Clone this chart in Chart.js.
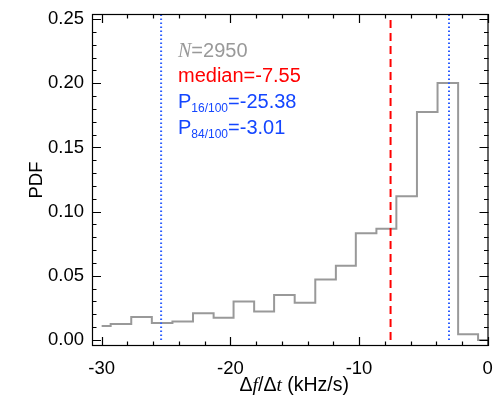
<!DOCTYPE html>
<html>
<head>
<meta charset="utf-8">
<script src="https://cdn.jsdelivr.net/npm/chart.js@4/dist/chart.umd.min.js"></script>
<style>
  html, body { margin: 0; padding: 0; background: #fff; }
  #wrap { width: 497px; height: 397px; position: relative; }
</style>
</head>
<body>
<div id="wrap"><canvas id="c" width="497" height="397"></canvas></div>
<script>
// ---- data ----
const binEdges = [-30, -29.3, -27.7, -26.1, -24.5, -22.9, -21.3, -19.75, -18.15, -16.6, -15.0,
                  -13.4, -11.8, -10.25, -8.65, -7.1, -5.5, -3.9, -2.3, -0.75, 0];
const pdfValues = [0.0109, 0.0125, 0.0179, 0.0132, 0.0143, 0.0208, 0.0174, 0.0299, 0.0221, 0.0350,
                   0.0290, 0.0472, 0.0579, 0.0831, 0.0867, 0.1119, 0.1776, 0.2002, 0.0044, 0.0];
const medianValue = -7.55;
const p16Value = -25.38;
const p84Value = -3.01;
const sampleCount = 2950;
const xMajorTicks = [-30, -20, -10, 0];
const xTickLabels = ['-30', '-20', '-10', '0'];
const xMinorTicks = [-28, -26, -24, -22, -18, -16, -14, -12, -8, -6, -4, -2];
const yMajorTicks = [0, 0.05, 0.10, 0.15, 0.20, 0.25];
const yTickLabels = ['0.00', '0.05', '0.10', '0.15', '0.20', '0.25'];
const yMinorTicks = [0.01,0.02,0.03,0.04,0.06,0.07,0.08,0.09,0.11,0.12,0.13,0.14,0.16,0.17,0.18,0.19,0.21,0.22,0.23,0.24];
const xAxisTitle = [['Δ', 'n'], ['f', 'i'], ['/', 'n'], ['Δ', 'n'], ['t', 'i'], [' (kHz/s)', 'n']];
const yAxisTitle = 'PDF';

const X_MIN = -30.75, X_MAX = 0.06;
const Y_MIN = -0.0047, Y_MAX = 0.254;

const SANS = '"Liberation Sans", Arial, Helvetica, sans-serif';
const SERIF = '"Liberation Serif", "Times New Roman", serif';
const GRAY = '#999999';
const RED = '#ff0000';
const BLUE = '#1446ff';
const DOT_BLUE = '#2a5cff';

Chart.defaults.font.family = SANS;
Chart.defaults.color = '#000';

const histPoints = binEdges.map((x, i) => ({ x: x, y: pdfValues[Math.min(i, pdfValues.length - 1)] }));
const vline = v => [{ x: v, y: 0 }, { x: v, y: Y_MAX }];

const decorPlugin = {
  id: 'decor',
  afterDraw(chart) {
    const ctx = chart.ctx;
    const a = chart.chartArea;
    const xs = chart.scales.x, ys = chart.scales.y;
    ctx.save();
    ctx.strokeStyle = '#000';
    ctx.lineWidth = 1.2;
    ctx.strokeRect(a.left + 0.5, a.top + 0.5, a.right - a.left - 1, a.bottom - a.top - 1);
    const tick = (px, len, horiz) => {
      ctx.beginPath();
      if (horiz) {
        ctx.moveTo(px, a.bottom); ctx.lineTo(px, a.bottom - len);
        ctx.moveTo(px, a.top); ctx.lineTo(px, a.top + len);
      } else {
        ctx.moveTo(a.left, px); ctx.lineTo(a.left + len, px);
        ctx.moveTo(a.right, px); ctx.lineTo(a.right - len, px);
      }
      ctx.stroke();
    };
    ctx.lineWidth = 1.2;
    xMajorTicks.forEach(v => tick(Math.round(xs.getPixelForValue(v)) + 0.5, 9, true));
    xMinorTicks.forEach(v => tick(Math.round(xs.getPixelForValue(v)) + 0.5, 4.5, true));
    yMajorTicks.forEach(v => tick(Math.round(ys.getPixelForValue(v)) + 0.5, 9, false));
    yMinorTicks.forEach(v => tick(Math.round(ys.getPixelForValue(v)) + 0.5, 4.5, false));

    const fs = 19.5;
    const fontOf = k => (k === 'i' ? 'italic ' + fs + 'px ' + SERIF : fs + 'px ' + SANS);
    let total = 0;
    xAxisTitle.forEach(([t, k]) => { ctx.font = fontOf(k); total += ctx.measureText(t).width; });
    let x = (a.left + a.right) / 2 + 4 - total / 2;
    ctx.fillStyle = '#000';
    ctx.textBaseline = 'alphabetic';
    ctx.textAlign = 'left';
    xAxisTitle.forEach(([t, k]) => { ctx.font = fontOf(k); ctx.fillText(t, x, 391); x += ctx.measureText(t).width; });

    ctx.save();
    ctx.translate(42, (a.top + a.bottom) / 2);
    ctx.rotate(-Math.PI / 2);
    ctx.font = '18.5px ' + SANS;
    ctx.textAlign = 'center';
    ctx.fillText(yAxisTitle, 0, 0);
    ctx.restore();

    const tx = a.left + 86;
    const big = '20px ' + SANS;
    const sub = '12px ' + SANS;
    ctx.fillStyle = GRAY;
    ctx.font = 'italic 20px ' + SERIF;
    ctx.fillText('N', tx, 57);
    let w = ctx.measureText('N').width;
    ctx.font = big;
    ctx.fillText('=' + sampleCount, tx + w, 57);
    ctx.fillStyle = RED;
    ctx.fillText('median=' + medianValue.toFixed(2), tx, 82);
    const pLine = (subTxt, val, y) => {
      ctx.fillStyle = BLUE;
      ctx.font = big;
      ctx.fillText('P', tx, y);
      let xx = tx + ctx.measureText('P').width;
      ctx.font = sub;
      ctx.fillText(subTxt, xx, y + 4);
      xx += ctx.measureText(subTxt).width;
      ctx.font = big;
      ctx.fillText('=' + val.toFixed(2), xx, y);
    };
    pLine('16/100', p16Value, 108);
    pLine('84/100', p84Value, 134);
    ctx.restore();
  }
};

new Chart(document.getElementById('c'), {
  type: 'scatter',
  data: {
    datasets: [
      { data: histPoints, showLine: true, stepped: 'before', borderColor: GRAY, borderWidth: 2,
        pointRadius: 0, fill: false, order: 3 },
      { data: vline(medianValue), showLine: true, borderColor: RED, borderWidth: 2,
        borderDash: [8, 5], pointRadius: 0, order: 1 },
      { data: vline(p16Value), showLine: true, borderColor: DOT_BLUE, borderWidth: 2,
        borderDash: [1.5, 2.5], pointRadius: 0, order: 2 },
      { data: vline(p84Value), showLine: true, borderColor: DOT_BLUE, borderWidth: 2,
        borderDash: [1.5, 2.5], pointRadius: 0, order: 2 }
    ]
  },
  options: {
    responsive: false,
    animation: false,
    devicePixelRatio: 1,
    layout: { padding: { top: 14, right: 8.5, left: 0, bottom: 0 } },
    plugins: { legend: { display: false }, tooltip: { enabled: false } },
    scales: {
      x: {
        type: 'linear', min: X_MIN, max: X_MAX,
        grid: { display: false, drawTicks: false },
        border: { display: false },
        afterBuildTicks: s => { s.ticks = xMajorTicks.map(v => ({ value: v })); },
        afterFit: s => { s.height = 51; s.paddingLeft = 0; s.paddingRight = 0; },
        ticks: {
          padding: 12, maxRotation: 0, autoSkip: false,
          font: { size: 18.5 }, color: '#000',
          callback: (v) => { const i = xMajorTicks.findIndex(t => Math.abs(t - v) < 1e-9); return i >= 0 ? xTickLabels[i] : ''; }
        }
      },
      y: {
        type: 'linear', min: Y_MIN, max: Y_MAX,
        grid: { display: false, drawTicks: false },
        border: { display: false },
        afterBuildTicks: s => { s.ticks = yMajorTicks.map(v => ({ value: v })); },
        afterFit: s => { s.width = 92; s.paddingTop = 0; s.paddingBottom = 0; },
        ticks: {
          padding: 8, autoSkip: false,
          font: { size: 18.5 }, color: '#000',
          callback: (v) => { const i = yMajorTicks.findIndex(t => Math.abs(t - v) < 1e-9); return i >= 0 ? yTickLabels[i] : ''; }
        }
      }
    }
  },
  plugins: [decorPlugin]
});
</script>
</body>
</html>
